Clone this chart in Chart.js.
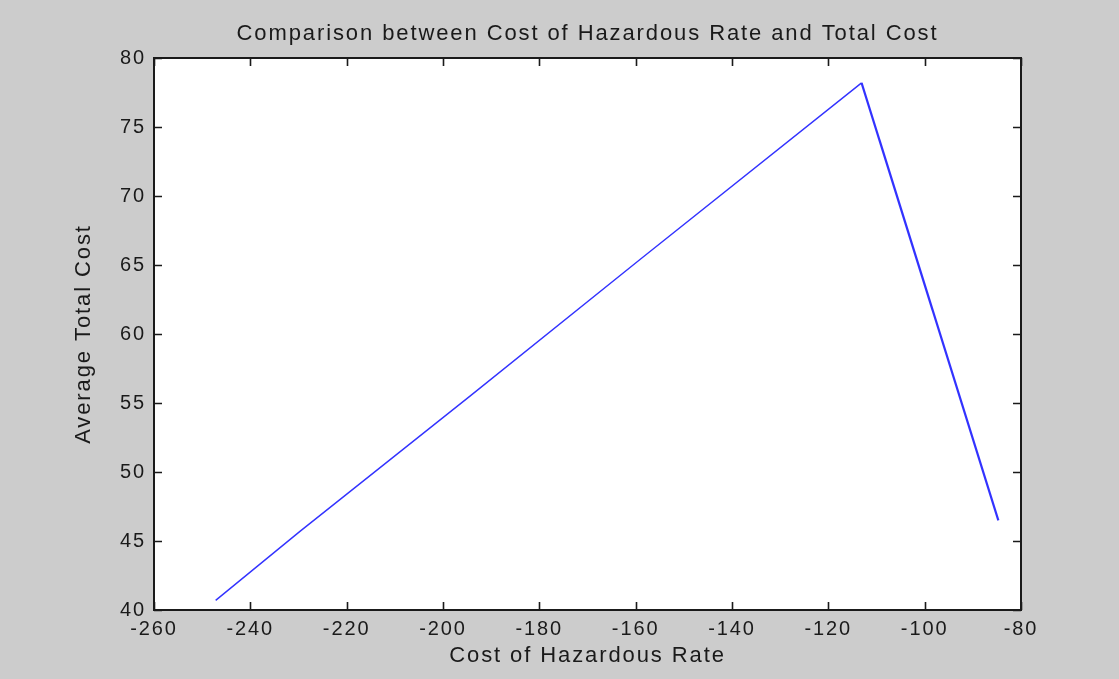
<!DOCTYPE html>
<html>
<head>
<meta charset="utf-8">
<script src="https://cdn.jsdelivr.net/npm/chart.js@4"></script>
<style>
  html, body { margin: 0; padding: 0; background: #cccccc; }
  #wrap { width: 1119px; height: 679px; position: relative; }
</style>
</head>
<body>
<div id="wrap"><canvas id="c"></canvas></div>
<script>
// ---- data ----
const titleText = 'Comparison between Cost of Hazardous Rate and Total Cost';
const xAxisTitle = 'Cost of Hazardous Rate';
const yAxisTitle = 'Average Total Cost';
const hazardCost = [-247.2, -229.7, -194.4, -159.1, -113.1, -84.7];
const avgTotalCost = [40.7, 45.7, 55.5, 65.4, 78.2, 46.5];
const xTicks = [-260, -240, -220, -200, -180, -160, -140, -120, -100, -80];
const yTicks = [40, 45, 50, 55, 60, 65, 70, 75, 80];

const FONT = "'Liberation Sans', Arial, sans-serif";
const LS = '1.9px';

const points = hazardCost.map((x, i) => ({ x: x, y: avgTotalCost[i] }));

const matlabPlugin = {
  id: 'matlab',
  beforeUpdate(chart) { chart.ctx.letterSpacing = LS; },
  beforeLayout(chart) { chart.ctx.letterSpacing = LS; },
  beforeDraw(chart) {
    const ctx = chart.ctx;
    ctx.save();
    ctx.fillStyle = '#cccccc';
    ctx.fillRect(0, 0, chart.width, chart.height);
    const a = chart.chartArea;
    ctx.fillStyle = '#ffffff';
    ctx.fillRect(a.left, a.top, a.right - a.left, a.bottom - a.top);
    ctx.restore();
    ctx.letterSpacing = LS;
  },
  afterDraw(chart) {
    const ctx = chart.ctx;
    const a = chart.chartArea;
    const xs = chart.scales.x, ys = chart.scales.y;
    const len = 8;
    ctx.save();
    ctx.strokeStyle = '#1a1a1a';
    ctx.lineWidth = 1.6;
    ctx.beginPath();
    xTicks.forEach(v => {
      const px = Math.round(xs.getPixelForValue(v)) + 0.5;
      ctx.moveTo(px, a.bottom); ctx.lineTo(px, a.bottom - len);
      ctx.moveTo(px, a.top); ctx.lineTo(px, a.top + len);
    });
    yTicks.forEach(v => {
      const py = Math.round(ys.getPixelForValue(v)) + 0.5;
      ctx.moveTo(a.left, py); ctx.lineTo(a.left + len, py);
      ctx.moveTo(a.right, py); ctx.lineTo(a.right - len, py);
    });
    ctx.stroke();
    ctx.lineWidth = 2;
    ctx.strokeRect(a.left, a.top, a.right - a.left, a.bottom - a.top);
    // title centred over the plot area
    ctx.letterSpacing = LS;
    ctx.fillStyle = '#1a1a1a';
    ctx.font = '22px ' + FONT;
    ctx.textAlign = 'center';
    ctx.textBaseline = 'middle';
    ctx.fillText(titleText, (a.left + a.right) / 2, 34);
    ctx.restore();
  }
};

new Chart(document.getElementById('c'), {
  type: 'scatter',
  data: {
    datasets: [{
      data: points,
      showLine: true,
      borderColor: '#3232ff',
      backgroundColor: '#3232ff',
      borderWidth: 1.4,
      pointRadius: 0,
      tension: 0,
      segment: {
        borderWidth: c => (c.p0DataIndex >= 4 ? 2.2 : 1.4)
      }
    }]
  },
  options: {
    responsive: true,
    maintainAspectRatio: false,
    animation: false,
    devicePixelRatio: 1,
    layout: { padding: { left: 0, right: 98, top: 58, bottom: 0 } },
    plugins: {
      legend: { display: false },
      title: { display: false },
      tooltip: { enabled: false }
    },
    scales: {
      x: {
        type: 'linear',
        min: -260, max: -80,
        afterBuildTicks: s => { s.ticks = xTicks.map(v => ({ value: v })); },
        afterFit: s => { s.height = 69; },
        grid: { display: false, drawTicks: false },
        border: { display: false },
        ticks: {
          color: '#1a1a1a',
          padding: 7,
          maxRotation: 0,
          autoSkip: false,
          font: { family: FONT, size: 20 }
        },
        title: {
          display: true,
          text: xAxisTitle,
          color: '#1a1a1a',
          font: { family: FONT, size: 22 },
          padding: { top: 0, bottom: 10 }
        }
      },
      y: {
        type: 'linear',
        min: 40, max: 80,
        afterBuildTicks: s => { s.ticks = yTicks.map(v => ({ value: v })); },
        afterFit: s => { s.width = 154; },
        grid: { display: false, drawTicks: false },
        border: { display: false },
        ticks: {
          color: '#1a1a1a',
          padding: 8,
          autoSkip: false,
          font: { family: FONT, size: 20 }
        },
        title: {
          display: true,
          text: yAxisTitle,
          color: '#1a1a1a',
          font: { family: FONT, size: 22 },
          padding: { top: 71, bottom: 0 }
        }
      }
    }
  },
  plugins: [matlabPlugin]
});
</script>
</body>
</html>
